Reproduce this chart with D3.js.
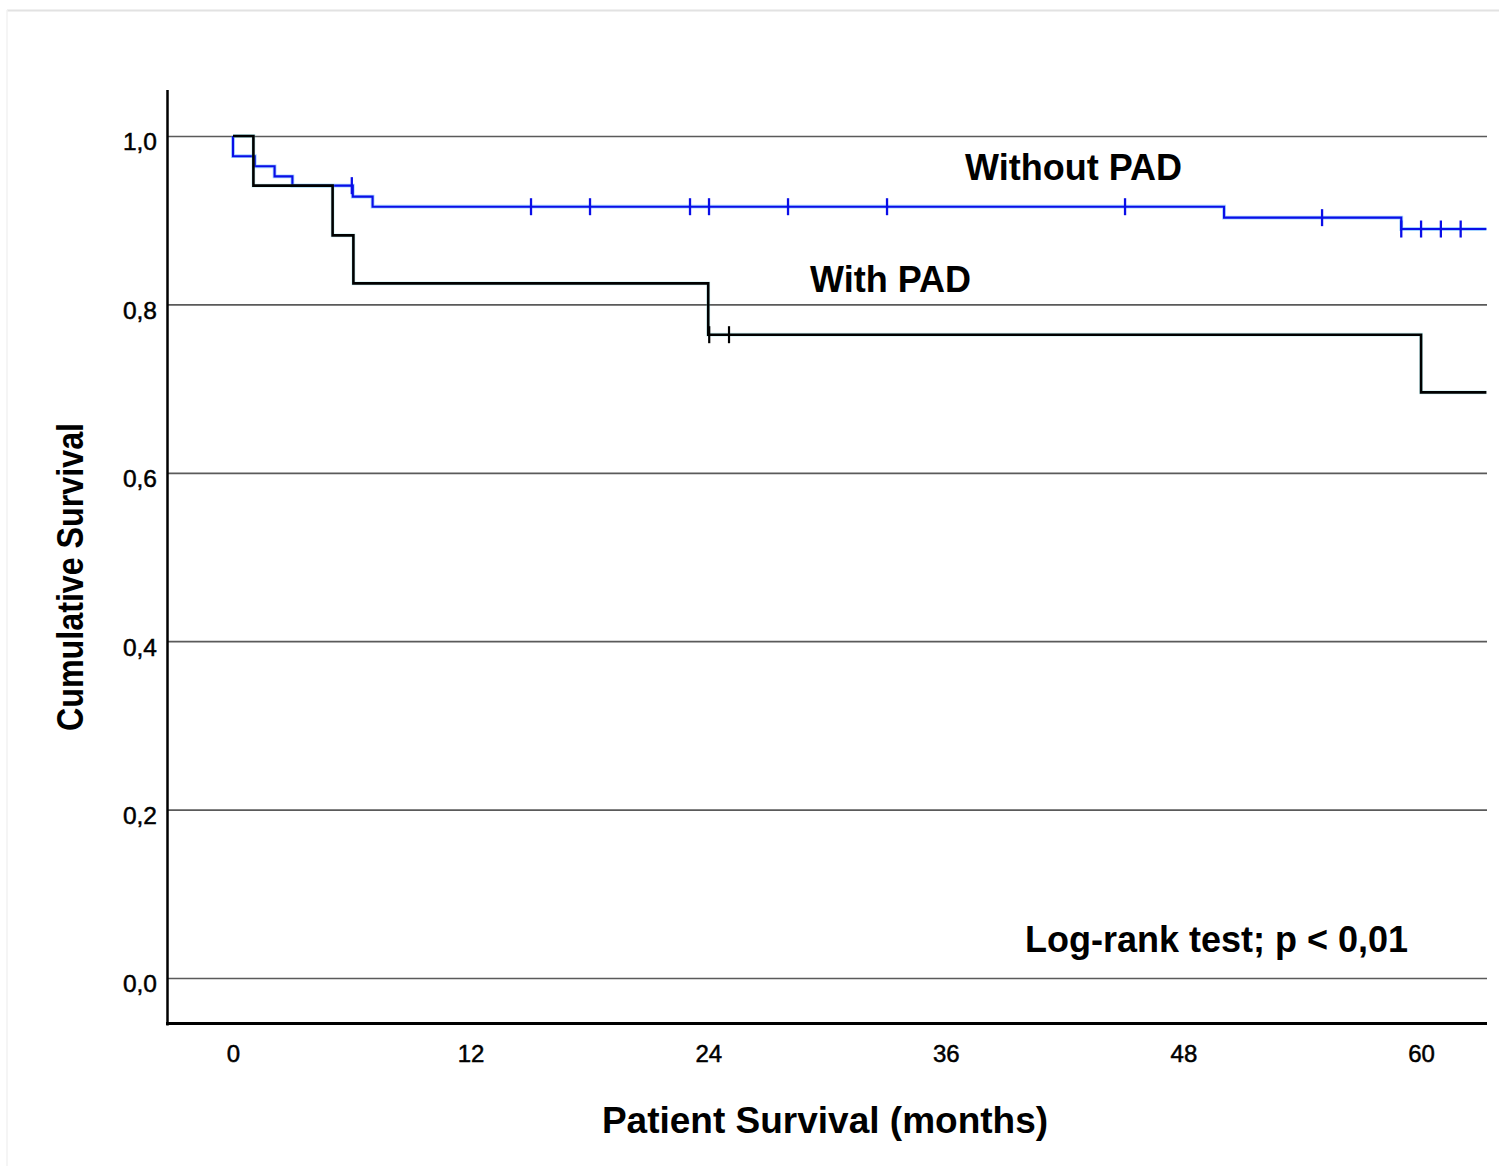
<!DOCTYPE html>
<html>
<head>
<meta charset="utf-8">
<script src="https://cdn.jsdelivr.net/npm/d3@7"></script>
<style>
  html, body { margin: 0; padding: 0; background: #fff; }
  svg { display: block; }
  text { font-family: "Liberation Sans", Arial, sans-serif; fill: #000; }
</style>
</head>
<body>
<svg id="chart" width="1499" height="1166"></svg>
<script>
// ---- Data ----
const xTickValues = [0, 12, 24, 36, 48, 60];
const yTickValues = [0, 0.2, 0.4, 0.6, 0.8, 1.0];
const followUpEnd = 63.3;

// Without PAD (blue)
const withoutEventMonths = [0, 1.1, 2.1, 3.0, 6.05, 7.05, 50.05, 59.0];
const withoutSurvival    = [0.976, 0.964, 0.952, 0.941, 0.928, 0.916, 0.903, 0.8895];
const withoutCensorMonths = [6.0, 15.05, 18.03, 23.08, 24.04, 28.03, 33.03, 45.05, 55.0, 59.0, 60.0, 61.0, 62.0];

// With PAD (black)
const withEventMonths = [1.03, 5.03, 6.08, 24.0, 60.0];
const withSurvival    = [0.941, 0.882, 0.825, 0.764, 0.6955];
const withCensorMonths = [24.05, 25.05];

const labels = {
  without: "Without PAD",
  with: "With PAD",
  test: "Log-rank test; p < 0,01",
  xTitle: "Patient Survival (months)",
  yTitle: "Cumulative Survival"
};

// ---- Layout ----
const svg = d3.select("#chart");
const plotLeft = 168, plotRight = 1487, plotTop = 90, plotBottom = 1024;

const x = d3.scaleLinear().domain([-3.283, 63.33]).range([plotLeft, plotRight]);
const y = d3.scaleLinear().domain([-0.0546, 1.0546]).range([plotBottom, plotTop]);

// faint frame
svg.append("line").attr("x1", 7).attr("x2", 1499).attr("y1", 10.5).attr("y2", 10.5)
  .attr("stroke", "#e2e2e2").attr("stroke-width", 2);
svg.append("line").attr("x1", 7).attr("x2", 7).attr("y1", 10).attr("y2", 1166)
  .attr("stroke", "#f2f2f2").attr("stroke-width", 1.5);

// gridlines + y tick labels
const yAxis = d3.axisLeft(y)
  .tickValues(yTickValues)
  .tickSize(-(plotRight - plotLeft))
  .tickPadding(11)
  .tickFormat(d => d3.format(".1f")(d).replace(".", ","));
const gy = svg.append("g").attr("transform", `translate(${plotLeft},0)`).call(yAxis);
gy.select(".domain").remove();
gy.selectAll(".tick line").attr("stroke", "#5a5a5a").attr("stroke-width", 1.7);
gy.selectAll(".tick text")
  .attr("font-size", 24.5)
  .attr("dy", "0.57em")
  .attr("font-family", "Liberation Sans, Arial, sans-serif")
  .attr("fill", "#000").attr("stroke", "#000").attr("stroke-width", 0.5);

// x tick labels
const xAxis = d3.axisBottom(x).tickValues(xTickValues).tickSize(0).tickPadding(21);
const gx = svg.append("g").attr("transform", `translate(0,${plotBottom})`).call(xAxis);
gx.select(".domain").remove();
gx.selectAll(".tick text")
  .attr("font-size", 24)
  .attr("font-family", "Liberation Sans, Arial, sans-serif")
  .attr("fill", "#000").attr("stroke", "#000").attr("stroke-width", 0.5);

// axis lines
svg.append("line").attr("x1", 167.5).attr("x2", 167.5).attr("y1", plotTop).attr("y2", plotBottom + 1.5)
  .attr("stroke", "#000").attr("stroke-width", 2.5);
svg.append("line").attr("x1", 166).attr("x2", plotRight).attr("y1", 1023.5).attr("y2", 1023.5)
  .attr("stroke", "#000").attr("stroke-width", 3);

// step curves
function stepPoints(times, surv) {
  const pts = [[0, 1]];
  times.forEach((t, i) => pts.push([t, surv[i]]));
  pts.push([followUpEnd, surv[surv.length - 1]]);
  return pts;
}
function survivalAt(t, times, surv) {
  let s = 1;
  times.forEach((et, i) => { if (et <= t) s = surv[i]; });
  return s;
}
const line = d3.line().x(d => x(d[0])).y(d => y(d[1])).curve(d3.curveStepAfter);

const withoutPts = stepPoints(withoutEventMonths, withoutSurvival);
const withPts = stepPoints(withEventMonths, withSurvival);

// Without PAD (blue)
svg.append("path").datum(withoutPts).attr("d", line)
  .attr("fill", "none").attr("stroke", "#3aa0ff").attr("stroke-width", 3.8).attr("opacity", 0.45);
svg.append("path").datum(withoutPts).attr("d", line)
  .attr("fill", "none").attr("stroke", "#0a0ee8").attr("stroke-width", 2.1);
svg.append("g").selectAll("line").data(withoutCensorMonths).join("line")
  .attr("x1", d => x(d)).attr("x2", d => x(d))
  .attr("y1", d => y(survivalAt(d, withoutEventMonths, withoutSurvival)) - 8.5)
  .attr("y2", d => y(survivalAt(d, withoutEventMonths, withoutSurvival)) + 8.5)
  .attr("stroke", "#0a0ee8").attr("stroke-width", 2.3);

// With PAD (black)
svg.append("path").datum(withPts).attr("d", line)
  .attr("fill", "none").attr("stroke", "#5fd0d8").attr("stroke-width", 3.8).attr("opacity", 0.35);
svg.append("path").datum(withPts).attr("d", line)
  .attr("fill", "none").attr("stroke", "#000").attr("stroke-width", 2.6);
svg.append("g").selectAll("line").data(withCensorMonths).join("line")
  .attr("x1", d => x(d)).attr("x2", d => x(d))
  .attr("y1", d => y(survivalAt(d, withEventMonths, withSurvival)) - 8.5)
  .attr("y2", d => y(survivalAt(d, withEventMonths, withSurvival)) + 8.5)
  .attr("stroke", "#000").attr("stroke-width", 2.2);

// annotations
svg.append("text").attr("x", x(36.97)).attr("y", y(0.948))
  .attr("font-size", 36).attr("font-weight", "bold").text(labels.without);
svg.append("text").attr("x", x(29.14)).attr("y", y(0.815))
  .attr("font-size", 36).attr("font-weight", "bold").text(labels.with);
svg.append("text").attr("x", x(40.0)).attr("y", y(0.031))
  .attr("font-size", 36).attr("font-weight", "bold").text(labels.test);

// axis titles
svg.append("text").attr("x", 825).attr("y", 1133)
  .attr("text-anchor", "middle").attr("font-size", 37).attr("font-weight", "bold")
  .text(labels.xTitle);
svg.append("text")
  .attr("transform", "translate(83,577) rotate(-90)")
  .attr("text-anchor", "middle").attr("font-size", 37).attr("font-weight", "bold")
  .attr("textLength", 308).attr("lengthAdjust", "spacingAndGlyphs")
  .text(labels.yTitle);
</script>
</body>
</html>
